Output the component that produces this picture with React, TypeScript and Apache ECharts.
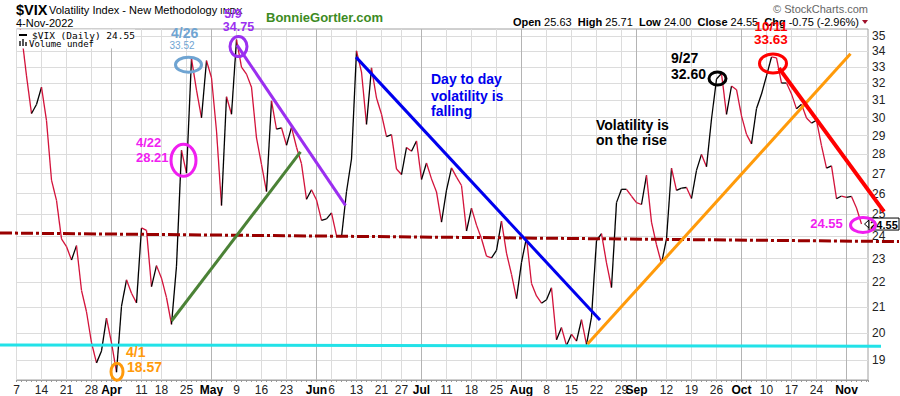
import React, { useEffect, useRef } from 'react';
import * as echarts from 'echarts';

// Daily closes of $VIX, 7-Mar-2022 .. 4-Nov-2022 (trading days)
const closes: number[] = [
  36.45, 35.13, 32.45, 30.23, 30.75, 31.77, 29.83, 26.67, 25.67, 23.87,
  23.53, 22.94, 23.57, 21.67, 20.81, 19.63, 18.90, 19.33, 20.56, 19.63,
  18.57, 21.03, 22.10, 21.55, 21.16, 24.37, 24.26, 21.82, 22.70, 22.17,
  21.37, 20.32, 22.68, 28.21, 27.02, 33.52, 31.60, 29.99, 33.40, 32.34,
  29.25, 25.42, 31.20, 30.19, 34.75, 32.99, 32.56, 31.77, 28.87, 27.47,
  26.10, 30.96, 29.35, 29.43, 28.48, 29.45, 28.37, 27.50, 25.72, 26.19,
  25.69, 24.72, 24.79, 25.07, 24.02, 23.96, 26.09, 27.75, 34.02, 32.69,
  29.62, 32.95, 31.13, 30.19, 28.95, 29.05, 27.23, 26.95, 28.36, 28.16,
  28.71, 26.70, 27.54, 26.73, 26.08, 24.64, 26.17, 27.29, 26.82, 26.40,
  24.23, 25.30, 24.50, 23.88, 23.11, 23.03, 23.36, 24.69, 23.24, 22.33,
  21.33, 22.84, 23.93, 21.95, 21.44, 21.15, 21.29, 21.77, 19.74, 20.20,
  19.53, 19.95, 19.69, 20.50, 19.56, 20.60, 23.80, 24.11, 22.82, 21.78,
  25.56, 26.21, 26.21, 25.87, 25.56, 25.47, 26.91, 24.64, 23.61, 22.79,
  23.87, 27.27, 26.16, 26.27, 26.30, 25.76, 27.16, 27.99, 27.35, 29.92,
  32.26, 32.60, 30.18, 31.84, 31.62, 30.10, 29.07, 28.55, 30.52, 31.36,
  32.45, 33.63, 33.57, 32.02, 32.02, 31.37, 30.50, 30.76, 29.98, 29.69,
  29.85, 28.46, 27.28, 27.39, 25.75, 25.88, 25.81, 25.86, 25.30, 24.55,
];

// x-axis tick labels (trading-day index -> label)
const xTickIdx = [0, 5, 10, 15, 19, 25, 29, 34, 39, 44, 49, 54, 60, 63, 68, 73, 77, 81, 86, 91, 96, 101, 106, 111, 116, 121, 124, 130, 135, 140, 145, 150, 155, 160, 166];
const xTickLabels = ['7', '14', '21', '28', 'Apr', '11', '18', '25', 'May', '9', '16', '23', 'Jun', '6', '13', '21', '27', 'Jul', '11', '18', '25', 'Aug', '8', '15', '22', '29', 'Sep', '12', '19', '26', 'Oct', '10', '17', '24', 'Nov'];
const monthLabels = ['Apr', 'May', 'Jun', 'Jul', 'Aug', 'Sep', 'Oct', 'Nov'];

// y-axis (log scale) tick labels
const yTicks = [19, 20, 21, 22, 23, 24, 25, 26, 27, 28, 29, 30, 31, 32, 33, 34, 35];
const yMinVal = 18.30;
const yMaxVal = 35.45;
const xMaxIdx = 170.3;

// Hand-drawn trend lines: [trading-day index, VIX value]
const supportLine = [[-3.3, 19.55], [172.9, 19.5]];
const midLine = [[-3.3, 24.14], [176.5, 23.75]];
const greenLine = [[31.0, 20.45], [56.8, 28.12]];
const purpleLine = [[44.1, 34.39], [65.8, 25.43]];
const blueLine = [[67.9, 33.62], [116.7, 20.49]];
const orangeLine = [[114.2, 19.58], [166.8, 33.83]];
const redLine = [[152.5, 32.93], [173.5, 25.13]];

// Header stats
const headerStats = [['Open', '25.63'], ['High', '25.71'], ['Low', '24.00'], ['Close', '24.55'], ['Chg', '-0.75 (-2.96%)']];
const lastClose = 24.55;

const F = '"Liberation Sans", Arial, sans-serif';

export default function App() {
  const ref = useRef<HTMLDivElement>(null);
  useEffect(() => {
    const chart = echarts.init(ref.current!, null, { renderer: 'svg' });
    const labelMap = new Map<number, string>();
    xTickIdx.forEach((v, k) => labelMap.set(v, xTickLabels[k]));
    const monthIdx = xTickIdx.filter((_, k) => monthLabels.includes(xTickLabels[k]));

    const option: any = {
      animation: false,
      grid: { left: 16.5, top: 29, width: 851.5, height: 351, show: true, borderColor: '#a0a0a0', borderWidth: 1 },
      xAxis: [
        {
          type: 'value', min: 0, max: xMaxIdx, position: 'bottom',
          axisLine: { show: false },
          axisTick: { show: false, customValues: xTickIdx },
          axisLabel: {
            customValues: xTickIdx, margin: 4, fontSize: 12, color: '#222', fontFamily: F,
            formatter: (v: number) => {
              const t = labelMap.get(Math.round(v)) || '';
              return monthLabels.includes(t) ? `{m|${t}}` : t;
            },
            rich: { m: { fontWeight: 'bold', fontSize: 12, color: '#000', fontFamily: F } },
          },
          splitLine: { show: true, lineStyle: { color: '#dcdcdc', width: 1 } },
        },
        {
          type: 'value', min: 0, max: xMaxIdx, position: 'bottom',
          axisLine: { show: false },
          axisTick: { show: false, customValues: monthIdx },
          axisLabel: { show: false },
          splitLine: { show: true, lineStyle: { color: '#b4b4b4', width: 1 } },
        },
        {
          type: 'value', min: 0, max: xMaxIdx, interval: 1, position: 'bottom',
          axisLine: { show: true, lineStyle: { color: '#a0a0a0' } },
          axisTick: { show: true, length: 2, lineStyle: { color: '#999' } },
          axisLabel: { show: false },
          splitLine: { show: false },
        },
      ],
      yAxis: {
        type: 'value', position: 'right', min: Math.log(yMinVal), max: Math.log(yMaxVal),
        axisLine: { show: false },
        axisTick: { show: false, customValues: yTicks.map(Math.log) },
        axisLabel: {
          customValues: yTicks.map(Math.log), margin: 4, fontSize: 12, color: '#222', fontFamily: F,
          formatter: (v: number) => String(Math.round(Math.exp(v))),
        },
        splitLine: { show: true, lineStyle: { color: '#dcdcdc', width: 1 } },
      },
      series: [
        {
          type: 'custom',
          clip: true,
          z: 3,
          silent: true,
          data: closes.map((c, i) => [i, Math.log(c)]),
          encode: { x: 0, y: 1 },
          renderItem: (params: any, api: any) => {
            const i = params.dataIndex;
            if (i === 0) return { type: 'group', children: [] };
            const a = api.coord([i - 1, Math.log(closes[i - 1])]);
            const b = api.coord([i, Math.log(closes[i])]);
            return {
              type: 'line',
              shape: { x1: a[0], y1: a[1], x2: b[0], y2: b[1] },
              style: { stroke: closes[i] >= closes[i - 1] ? '#000000' : '#d3123a', lineWidth: 1.3 },
            };
          },
        },
      ],
    };
    chart.setOption(option);

    const px = (i: number, v: number) => chart.convertToPixel({ xAxisIndex: 0, yAxisIndex: 0 }, [i, Math.log(v)]) as number[];
    const trend = (pts: number[][], color: string, width: number, dash?: number[]) => ({
      type: 'polyline', z: 6, silent: true,
      shape: { points: pts.map((p) => px(p[0], p[1])) },
      style: { fill: 'none', stroke: color, lineWidth: width, lineDash: dash || null },
    });
    const ell = (i: number, dx: number, dy: number, rx: number, ry: number, color: string) => {
      const p = px(i, closes[i]);
      return { type: 'ellipse', z: 20, silent: true, shape: { cx: p[0] + dx, cy: p[1] + dy, rx, ry }, style: { fill: 'none', stroke: color, lineWidth: 3 } };
    };
    const txt = (text: string, x: number, y: number, size: number, color: string, weight = 'bold', align = 'left', family = F) => ({
      type: 'text', z: 20, silent: true,
      style: { text, x, y, fill: color, fontSize: size, fontWeight: weight, fontFamily: family, align, textAlign: align, verticalAlign: 'middle', textVerticalAlign: 'middle', lineHeight: size + 2 },
    });
    const tag = px(closes.length - 1, lastClose);
    const headerText = headerStats.map(([k, v]) => `{b|${k}} ${v}`).join('  ');
    const MONO = '"DejaVu Sans Mono", monospace';

    const graphic: any[] = [
      // trend lines
      trend(supportLine, '#22e2e8', 3),
      trend(midLine, '#990000', 3, [12, 3, 3, 3]),
      trend(greenLine, '#4b8236', 3),
      trend(purpleLine, '#9b2ff0', 3),
      trend(blueLine, '#0000ee', 3),
      trend(orangeLine, '#ff9a0a', 3),
      trend(redLine, '#ff0000', 4),
      // title block
      txt('$VIX', 16, 9.5, 14.5, '#000'),
      txt('Volatility Index - New Methodology', 49, 10, 11, '#000', 'normal'),
      txt('INDX', 220, 10.5, 9.5, '#000', 'normal'),
      txt('4-Nov-2022', 16, 23, 11, '#000', 'normal'),
      txt('BonnieGortler.com', 266, 17, 13, '#3d8b1f'),
      txt('\u00A9 StockCharts.com', 868, 9, 11, '#666', 'normal', 'right'),
      {
        type: 'text', z: 20, silent: true,
        style: {
          text: headerText, x: 859, y: 22, fill: '#000', fontSize: 11, fontFamily: F, align: 'right', textAlign: 'right', verticalAlign: 'middle', textVerticalAlign: 'middle',
          rich: { b: { fontWeight: 'bold', fontSize: 11, fontFamily: F } },
        },
      },
      { type: 'polygon', z: 20, silent: true, shape: { points: [[862, 20], [868, 20], [865, 24]] }, style: { fill: '#a0102a' } },
      // legend block
      { type: 'rect', z: 10, silent: true, shape: { x: 17, y: 29.5, width: 118, height: 19 }, style: { fill: '#fff' } },
      { type: 'rect', z: 20, silent: true, shape: { x: 19, y: 34, width: 8, height: 2 }, style: { fill: '#000' } },
      txt('$VIX (Daily) 24.55', 32, 35, 9.5, '#000', 'normal', 'left', MONO),
      { type: 'rect', z: 20, silent: true, shape: { x: 19, y: 41, width: 2, height: 5 }, style: { fill: '#555' } },
      { type: 'rect', z: 20, silent: true, shape: { x: 22, y: 39, width: 2, height: 7 }, style: { fill: '#555' } },
      { type: 'rect', z: 20, silent: true, shape: { x: 25, y: 42, width: 2, height: 4 }, style: { fill: '#555' } },
      txt('Volume undef', 29, 44, 9, '#000', 'normal', 'left', MONO),
      // price tag on the right axis
      { type: 'polygon', z: 15, silent: true, shape: { points: [[864.5, tag[1]], [869, tag[1] - 4], [869, tag[1] + 4]] }, style: { fill: '#fff', stroke: '#000', lineWidth: 1 } },
      { type: 'rect', z: 15, silent: true, shape: { x: 869, y: tag[1] - 6, width: 30, height: 12 }, style: { fill: '#fff', stroke: '#000', lineWidth: 1 } },
      txt('24.55', 884, tag[1] + 0.5, 11, '#000', 'bold', 'center'),
      // annotation ellipses
      ell(35, -3, 6, 13, 7.5, '#6fa4d2'),
      ell(44, 2, 7, 8.5, 10, '#9b2ff0'),
      ell(33, 2, 10, 12.5, 16, '#f01ef0'),
      ell(20, 0.5, -0.5, 6, 8.5, '#ff9a0a'),
      ell(141, -4, 5, 8.5, 6.5, '#000000'),
      ell(151, 1.5, 6.5, 13.5, 9.5, '#ff0000'),
      ell(169, 1.5, 1, 12.5, 7.5, '#f01ef0'),
      // annotation labels
      txt('4/26', 171, 32.5, 14, '#6fa4d2'),
      txt('33.52', 182, 45.5, 10, '#6fa4d2', 'normal', 'center'),
      txt('5/9', 233, 14, 12.5, '#9b2ff0', 'bold', 'center'),
      txt('34.75', 238.5, 27, 12.5, '#9b2ff0', 'bold', 'center'),
      txt('4/22', 136, 142, 13, '#f01ef0'),
      txt('28.21', 136, 157, 13, '#f01ef0'),
      txt('4/1', 126, 352, 14, '#ff9a0a'),
      txt('18.57', 127, 367, 14, '#ff9a0a'),
      txt('9/27', 671, 58, 14, '#000'),
      txt('32.60', 671, 73.5, 14, '#000'),
      txt('10/11', 771, 26, 13.5, '#ff0000', 'bold', 'center'),
      txt('33.63', 771, 39, 13.5, '#ff0000', 'bold', 'center'),
      txt('24.55', 826.5, 223.5, 13, '#f01ef0', 'bold', 'center'),
      txt('Day to day', 431, 79, 14, '#0000ee'),
      txt('volatility is', 431, 95.5, 14, '#0000ee'),
      txt('falling', 431, 111, 14, '#0000ee'),
      txt('Volatility is', 596, 124.5, 14, '#000'),
      txt('on the rise', 596, 140, 14, '#000'),
    ];
    chart.setOption({ graphic });
    return () => chart.dispose();
  }, []);
  return <div ref={ref} style={{ position: 'fixed', left: 0, top: 0, width: 900, height: 396, background: '#fff' }} />;
}
